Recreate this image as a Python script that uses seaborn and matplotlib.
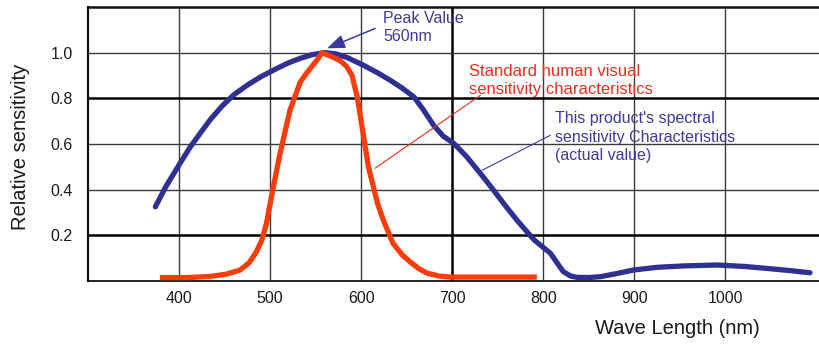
import matplotlib
matplotlib.use("Agg")
import matplotlib.pyplot as plt
import numpy as np
import pandas as pd
import seaborn as sns

# Spectral sensitivity of the sensor (nm, relative value)
sensor_wl = [374, 385, 401, 412, 423, 435, 447, 460, 475, 490, 507, 520, 533,
             547, 560, 572, 585, 603, 618, 632, 645, 658, 668, 680, 690, 702,
             716, 734, 745, 758, 771, 790, 808, 816, 822, 830, 837, 850, 863,
             880, 899, 925, 954, 991, 1020, 1046, 1070, 1093]
sensor_val = [0.325, 0.41, 0.515, 0.585, 0.646, 0.71, 0.765, 0.815, 0.858,
              0.895, 0.93, 0.955, 0.975, 0.992, 1.0, 0.995, 0.978, 0.944,
              0.912, 0.879, 0.845, 0.806, 0.752, 0.68, 0.635, 0.602, 0.544,
              0.456, 0.40, 0.332, 0.267, 0.18, 0.121, 0.075, 0.041, 0.022,
              0.016, 0.015, 0.019, 0.032, 0.048, 0.060, 0.066, 0.07, 0.064,
              0.055, 0.046, 0.036]

# Standard human visual sensitivity (photopic curve)
eye_wl = [379, 410, 434, 452, 467, 477, 485, 491, 496, 503, 511, 522, 533,
          540, 546, 552, 557, 563, 569, 577, 584, 590, 596, 600, 604, 608,
          613, 618, 624, 635, 645, 654, 663, 672, 685, 698, 793]
eye_val = [0.015, 0.015, 0.02, 0.03, 0.048, 0.08, 0.128, 0.18, 0.252, 0.40,
           0.56, 0.75, 0.87, 0.91, 0.94, 0.97, 1.0, 0.99, 0.98, 0.965, 0.94,
           0.9, 0.8, 0.7, 0.6, 0.5, 0.42, 0.34, 0.27, 0.165, 0.115, 0.083,
           0.055, 0.035, 0.022, 0.017, 0.017]

x_ticks = [400, 500, 600, 700, 800, 900, 1000]
y_ticks = [0.2, 0.4, 0.6, 0.8, 1.0]
y_tick_labels = ["0.2", "0.4", "0.6", "0.8", "1.0"]

BLUE = "#2e3192"
RED = "#fb3d0c"
BLUE_TEXT = "#3b3b9f"
RED_TEXT = "#e3321e"

sns.set_style("white")
plt.rcParams["font.family"] = ["Liberation Sans", "DejaVu Sans"]

sensor = pd.DataFrame({"wavelength": sensor_wl, "sensitivity": sensor_val})
eye = pd.DataFrame({"wavelength": eye_wl, "sensitivity": eye_val})

fig = plt.figure(figsize=(8.2, 3.48), dpi=100)
ax = fig.add_axes([88 / 820, 67 / 348, 732 / 820, 274 / 348])

sns.lineplot(data=sensor, x="wavelength", y="sensitivity", ax=ax, color=BLUE,
             linewidth=3.8, estimator=None, sort=False,
             solid_capstyle="round", solid_joinstyle="round", zorder=4)
sns.lineplot(data=eye, x="wavelength", y="sensitivity", ax=ax, color=RED,
             linewidth=3.8, estimator=None, sort=False,
             solid_capstyle="butt", solid_joinstyle="round", zorder=5)

ax.set_xlim(300, 1104)
ax.set_ylim(0, 1.2)
ax.set_xticks(x_ticks)
ax.set_xticklabels([str(v) for v in x_ticks])
ax.set_yticks(y_ticks)
ax.set_yticklabels(y_tick_labels)
ax.tick_params(axis="both", length=0, labelsize=11.5, colors="#1a1a1a")
ax.tick_params(axis="x", pad=7)
ax.tick_params(axis="y", pad=11)

# grid: a few lines are drawn heavier
ax.grid(True, color="#3a3a3a", linewidth=1.0, zorder=1)
for val, gl in zip(x_ticks, ax.get_xgridlines()):
    if val == 700:
        gl.set_linewidth(1.8)
        gl.set_color("#000000")
for val, gl in zip(y_ticks, ax.get_ygridlines()):
    if val in (0.2, 0.8):
        gl.set_linewidth(1.8)
        gl.set_color("#000000")

for side in ("top", "left", "bottom"):
    ax.spines[side].set_visible(True)
    ax.spines[side].set_color("#111111")
ax.spines["top"].set_linewidth(1.8)
ax.spines["left"].set_linewidth(1.6)
ax.spines["bottom"].set_linewidth(1.3)
ax.spines["right"].set_visible(False)

ax.set_xlabel("Wave Length (nm)", fontsize=14.5, color="#1a1a1a")
ax.set_ylabel("Relative sensitivity", fontsize=14.5, color="#1a1a1a")
ax.xaxis.set_label_coords(0.805, -0.14)
ax.yaxis.set_label_coords(-0.079, 0.49)

# peak marker
ax.annotate("", xy=(562.6, 1.019), xytext=(615.4, 1.106),
            arrowprops=dict(arrowstyle="-|>,head_length=0.9,head_width=0.35",
                            color=BLUE_TEXT, lw=1.1, mutation_scale=12,
                            shrinkA=0, shrinkB=0), zorder=6)
ax.text(624, 1.11, "Peak Value\n560nm", color=BLUE_TEXT, fontsize=11.5,
        ha="left", va="center", linespacing=1.3, zorder=6)

# leader lines and labels for the two curves
ax.annotate("", xy=(615.4, 0.494), xytext=(731, 0.813),
            arrowprops=dict(arrowstyle="-", color=RED_TEXT, lw=0.8,
                            shrinkA=0, shrinkB=0), zorder=6)
ax.text(718, 0.88, "Standard human visual\nsensitivity characteristics",
        color=RED_TEXT, fontsize=12, ha="left", va="center",
        linespacing=1.25, zorder=6)

ax.annotate("", xy=(733, 0.485), xytext=(807.7, 0.638),
            arrowprops=dict(arrowstyle="-", color=BLUE_TEXT, lw=0.8,
                            shrinkA=0, shrinkB=0), zorder=6)
ax.text(813, 0.63,
        "This product's spectral\nsensitivity Characteristics\n(actual value)",
        color=BLUE_TEXT, fontsize=11.5, ha="left", va="center",
        linespacing=1.3, zorder=6)

fig.savefig("out.png", dpi=100)
